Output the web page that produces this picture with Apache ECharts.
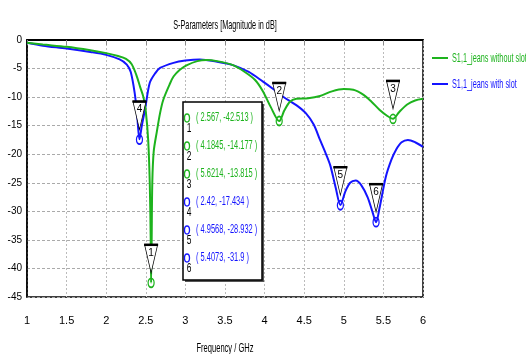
<!DOCTYPE html>
<html>
<head>
<meta charset="utf-8">
<script src="https://cdn.jsdelivr.net/npm/echarts@6/dist/echarts.min.js"></script>
<style>html,body{margin:0;padding:0;background:#fff}#c{width:526px;height:354px}</style>
</head>
<body>
<div id="c"></div>
<script>
// ---- data ----
const seriesNames = ['S1,1_jeans without slot', 'S1,1_jeans with slot'];
const greenFreq = [1.0,1.2,1.5,1.8,2.0,2.15,2.25,2.32,2.38,2.43,2.47,2.50,2.53,2.55,2.562,2.567,2.574,2.582,2.6,2.64,2.68,2.72,2.8,2.85,2.93,3.02,3.15,3.27,3.4,3.6,3.75,3.88,3.98,4.08,4.1845,4.25,4.32,4.4,4.55,4.7,4.85,5.0,5.12,5.25,5.35,5.45,5.55,5.6214,5.7,5.8,5.9,6.0];
const greenDb = [-0.5,-0.8,-1.2,-1.8,-2.3,-2.8,-3.3,-4.2,-6.1,-8.3,-10,-12.5,-17.5,-25,-35,-42.5,-35,-25,-19.5,-16,-12.8,-10.5,-7.8,-6.4,-5.2,-4.4,-3.7,-3.5,-3.7,-4.4,-5.6,-7,-9,-11.8,-14.2,-12.3,-10.8,-10.3,-10.2,-9.8,-9.0,-8.6,-8.7,-9.6,-10.8,-12.2,-13.3,-13.8,-12.6,-11.3,-10.6,-10.3];
const blueFreq = [1.0,1.2,1.5,1.8,2.0,2.17,2.26,2.31,2.36,2.39,2.42,2.45,2.49,2.55,2.62,2.68,2.85,3.0,3.18,3.4,3.6,3.8,3.98,4.1,4.23,4.4,4.52,4.62,4.70,4.77,4.83,4.9,4.9568,5.02,5.08,5.15,5.22,5.3,5.36,5.4073,5.45,5.53,5.6,5.66,5.73,5.81,5.9,6.0];
const blueDb = [-0.5,-1.0,-1.5,-2.1,-2.6,-3.4,-4.3,-5.6,-9.3,-13,-17.4,-15,-12.2,-7.5,-5.8,-4.9,-4.0,-3.6,-3.4,-3.8,-4.4,-5.6,-7.3,-8.5,-9.9,-11.4,-12.8,-14.8,-17.5,-19.8,-22,-26,-28.9,-26.5,-25.0,-24.6,-25.4,-27.5,-30,-31.9,-29.5,-24,-21,-19.2,-17.9,-17.5,-17.9,-18.7];
// markers: [id, freq, dB, text]
const greenMarkers = [[1, 2.567, -42.513, '( 2.567, -42.513 )'], [2, 4.1845, -14.177, '( 4.1845, -14.177 )'], [3, 5.6214, -13.815, '( 5.6214, -13.815 )']];
const blueMarkers = [[4, 2.42, -17.434, '( 2.42, -17.434 )'], [5, 4.9568, -28.932, '( 4.9568, -28.932 )'], [6, 5.4073, -31.9, '( 5.4073, -31.9 )']];
const xTicks = {min: 1, max: 6, interval: 0.5};
const yTicks = {min: -45, max: 0, interval: 5};
const titleText = 'S-Parameters [Magnitude in dB]';
const xAxisName = 'Frequency / GHz';

// ---- style ----
const GREEN = '#1db31d', BLUE = '#1414ff';
const FONT = "'Liberation Sans', Arial, sans-serif";

function zip(a, b) { return a.map((v, i) => [v, b[i]]); }
function markPoints(markers, color) {
  const d = [];
  markers.forEach(m => {
    d.push({coord: [m[1], m[2]], symbol: 'circle', symbolSize: [6, 9],
      itemStyle: {color: 'rgba(255,255,255,0)', borderColor: color, borderWidth: 1.5}, label: {show: false}});
    d.push({coord: [m[1], m[2]], symbol: 'path://M0,0 L14,0 L7,28 Z', symbolSize: [13, 28], symbolOffset: [0, -24],
      itemStyle: {color: '#fff', borderColor: '#000', borderWidth: 1},
      label: {show: true, formatter: String(m[0]), position: 'inside', offset: [0, -6], color: '#000', fontSize: 10, fontFamily: FONT}});
    d.push({coord: [m[1], m[2]], symbol: 'rect', symbolSize: [14, 2.5], symbolOffset: [0, -38],
      itemStyle: {color: '#000'}, label: {show: false}});
  });
  return {silent: true, animation: false, data: d};
}
function ntext(x, y, text, color, size, sx, align, z) {
  return {type: 'text', x: x, y: y, scaleX: sx, z: z || 110,
    style: {text: text, fill: color, font: size + 'px ' + FONT, align: align || 'left', verticalAlign: 'middle'}};
}

const gfx = [];
// title and axis name
gfx.push(ntext(225, 25, titleText, '#000', 13, 0.56, 'center'));
gfx.push(ntext(225, 348, xAxisName, '#000', 13, 0.58, 'center'));
// legend
[[seriesNames[0], GREEN, 58], [seriesNames[1], BLUE, 84]].forEach(l => {
  gfx.push({type: 'line', shape: {x1: 432, y1: l[2], x2: 448, y2: l[2]}, style: {stroke: l[1], lineWidth: 2}, z: 110});
  gfx.push(ntext(452, l[2], l[0], l[1], 13, 0.56, 'left'));
});
// marker table
const bx = 183, by = 102, bw = 79, bh = 178;
gfx.push({type: 'rect', shape: {x: bx + 2, y: by + 2, width: bw, height: bh}, style: {fill: '#555'}, z: 100});
gfx.push({type: 'rect', shape: {x: bx, y: by, width: bw, height: bh}, style: {fill: '#fff', stroke: '#000', lineWidth: 1.5}, z: 101});
greenMarkers.concat(blueMarkers).forEach((m, i) => {
  const color = i < 3 ? GREEN : BLUE;
  const ry = by + 16 + i * 28;
  gfx.push({type: 'ellipse', shape: {cx: bx + 4, cy: ry, rx: 2.5, ry: 4}, style: {fill: 'none', stroke: color, lineWidth: 1.3}, z: 102});
  gfx.push(ntext(bx + 6, ry + 11, String(m[0]), '#000', 12, 0.7, 'center', 102));
  gfx.push(ntext(bx + 13, ry, m[3], color, 12, 0.62, 'left', 102));
});

const chart = echarts.init(document.getElementById('c'), null, {renderer: 'canvas'});
chart.setOption({
  animation: false,
  backgroundColor: '#fff',
  grid: {left: 27, right: 103, top: 40, bottom: 57, show: true, borderColor: '#000', borderWidth: 1.5},
  xAxis: {type: 'value', min: xTicks.min, max: xTicks.max, interval: xTicks.interval,
    axisLine: {lineStyle: {color: '#000', width: 2}},
    axisTick: {show: true, length: 5, lineStyle: {color: '#888'}},
    axisLabel: {margin: 18, fontSize: 11, color: '#000', fontFamily: FONT},
    splitLine: {show: true, lineStyle: {color: '#bbb', type: [2, 2]}}},
  yAxis: {type: 'value', min: yTicks.min, max: yTicks.max, interval: yTicks.interval,
    axisLine: {show: true, lineStyle: {color: '#000', width: 1.5}},
    axisTick: {show: false},
    axisLabel: {margin: 5, fontSize: 10, color: '#000', fontFamily: FONT},
    splitLine: {show: true, lineStyle: {color: '#aaa', type: [3, 2]}}},
  series: [
    {name: seriesNames[0], type: 'line', data: zip(greenFreq, greenDb), showSymbol: false, smooth: 0.3,
      lineStyle: {color: GREEN, width: 2}, itemStyle: {color: GREEN}, z: 3, markPoint: markPoints(greenMarkers, GREEN)},
    {name: seriesNames[1], type: 'line', data: zip(blueFreq, blueDb), showSymbol: false, smooth: 0.3,
      lineStyle: {color: BLUE, width: 2}, itemStyle: {color: BLUE}, z: 2, markPoint: markPoints(blueMarkers, BLUE)}
  ],
  graphic: gfx
});
</script>
</body>
</html>
